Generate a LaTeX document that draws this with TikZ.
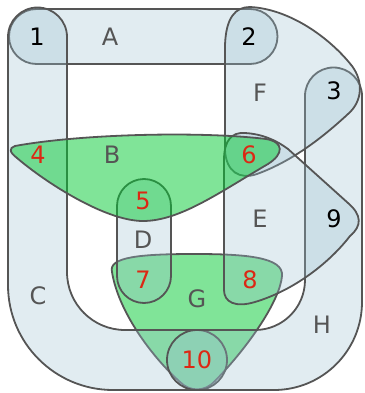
\documentclass[tikz,border=0pt]{standalone}
\usepackage{fontspec}
\setmainfont{DejaVu Sans}
\definecolor{edgeline}{RGB}{85,85,85}
\definecolor{bluefill}{RGB}{155,192,208}
\definecolor{greenfill}{RGB}{1,201,49}
\definecolor{nodered}{RGB}{220,40,20}
\tikzset{
  blueedge/.style={draw=edgeline, line width=1.8pt, fill=bluefill, fill opacity=0.3},
  greenedge/.style={draw=edgeline, line width=1.8pt, fill=greenfill, fill opacity=0.5},
  vlabel/.style={font=\fontsize{24}{24}\selectfont, text=black, inner sep=0pt},
  rlabel/.style={vlabel, text=nodered},
  elabel/.style={vlabel, text=edgeline},
}
\begin{document}
\begin{tikzpicture}[x=1pt, y=-1pt]
\useasboundingbox (0,0) rectangle (364,393);
% G (green, under)
\path[greenedge] (112,272) .. controls (108,257) and (140,254) .. (195,254)
  .. controls (245,254) and (284,257) .. (282,276)
  .. controls (280,300) and (250,345) .. (215,381)
  .. controls (205,392) and (190,392) .. (180,382)
  .. controls (150,355) and (118,310) .. cycle;
% A
\path[blueedge] (36.5,9) -- (250,9) arc[start angle=-90, end angle=90, radius=27.5]
  -- (36.5,64) arc[start angle=90, end angle=270, radius=27.5] -- cycle;
% C
\path[blueedge] (8,37) arc[start angle=180, end angle=360, radius=29.5]
  -- (67,272) arc[start angle=180, end angle=90, radius=58]
  -- (197,330) arc[start angle=-90, end angle=90, radius=30]
  -- (113,390) arc[start angle=90, end angle=180, radius=105] -- cycle;
% D
\path[blueedge] (117,206) arc[start angle=180, end angle=360, radius=27]
  -- (171,276) arc[start angle=0, end angle=180, radius=27] -- cycle;
% H
\path[blueedge] (305,96) arc[start angle=180, end angle=360, radius=28.5]
  -- (362,302) arc[start angle=0, end angle=90, radius=88]
  -- (197,390) arc[start angle=90, end angle=270, radius=30]
  -- (255,330) arc[start angle=90, end angle=0, radius=50] -- cycle;
% F
\path[blueedge] (225,45) .. controls (226,18) and (235,7) .. (250,7)
  .. controls (290,9) and (330,38) .. (352,66)
  .. controls (364,82) and (362,102) .. (348,114)
  .. controls (320,140) and (290,162) .. (257,174)
  .. controls (240,180) and (226,172) .. (225,150) -- cycle;
% E
\path[blueedge] (224,290) -- (224,160) .. controls (224,140) and (232,132) .. (245,133)
  .. controls (262,134) and (276,140) .. (288,149) -- (348,203)
  .. controls (362,215) and (362,226) .. (350,236)
  .. controls (330,262) and (295,290) .. (255,302)
  .. controls (235,308) and (224,302) .. cycle;
% B (green, on top)
\path[greenedge] (15,146) .. controls (80,134) and (200,131) .. (266,139)
  .. controls (284,142) and (284,154) .. (268,164)
  .. controls (220,192) and (180,221) .. (143,221)
  .. controls (105,221) and (45,182) .. (17,158)
  .. controls (9,152) and (9,148) .. cycle;
% edge labels
\node[elabel] (lA) at (110,37) {A};
\node[elabel] (lB) at (112,155) {B};
\node[elabel] (lC) at (38,296) {C};
\node[elabel] (lD) at (143,240) {D};
\node[elabel] (lE) at (260,219) {E};
\node[elabel] (lF) at (260,93) {F};
\node[elabel] (lG) at (197,299) {G};
\node[elabel] (lH) at (322,325) {H};
% node labels
\node[vlabel] (n1) at (37,37) {1};
\node[vlabel] (n2) at (249,37) {2};
\node[vlabel] (n3) at (334,91) {3};
\node[vlabel] (n9) at (334,219) {9};
\node[rlabel] (n4) at (38,155) {4};
\node[rlabel] (n5) at (143,201) {5};
\node[rlabel] (n6) at (249,155) {6};
\node[rlabel] (n7) at (143,280) {7};
\node[rlabel] (n8) at (250,280) {8};
\node[rlabel] (n10) at (197,360) {10};
\end{tikzpicture}
\end{document}
